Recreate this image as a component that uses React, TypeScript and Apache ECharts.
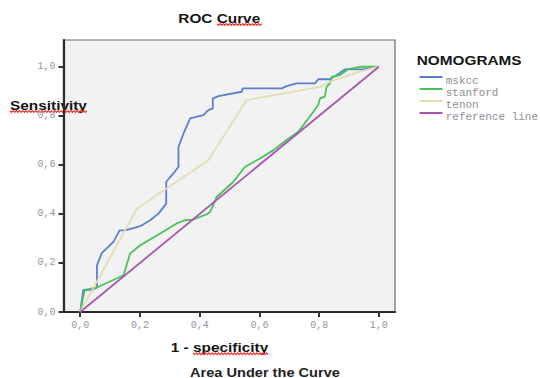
import React, { useEffect, useRef } from 'react';
import * as echarts from 'echarts';

const seriesNames = ['mskcc', 'stanford', 'tenon', 'reference line'];
const seriesColors = ['#5b7fd0', '#45c458', '#e2ddb4', '#a955b3'];

const mskcc: number[][] = [
  [0, 0], [0.01, 0.09], [0.04, 0.09], [0.056, 0.1], [0.056, 0.19], [0.072, 0.24],
  [0.111, 0.286], [0.132, 0.333], [0.151, 0.333], [0.201, 0.35], [0.234, 0.374],
  [0.262, 0.401], [0.288, 0.442], [0.288, 0.531], [0.312, 0.565], [0.329, 0.592],
  [0.329, 0.673], [0.346, 0.728], [0.368, 0.789], [0.412, 0.803], [0.429, 0.823],
  [0.444, 0.83], [0.444, 0.871], [0.463, 0.88], [0.541, 0.898], [0.544, 0.912],
  [0.675, 0.912], [0.691, 0.921], [0.725, 0.932], [0.786, 0.932], [0.797, 0.949],
  [0.836, 0.949], [0.859, 0.966], [0.886, 0.989], [0.95, 0.99], [1, 1],
];

const stanford: number[][] = [
  [0, 0], [0.015, 0.09], [0.056, 0.1], [0.145, 0.15], [0.167, 0.238], [0.201, 0.272],
  [0.268, 0.32], [0.323, 0.361], [0.351, 0.374], [0.379, 0.377], [0.424, 0.399],
  [0.435, 0.408], [0.457, 0.469], [0.513, 0.531], [0.552, 0.592], [0.602, 0.626],
  [0.647, 0.66], [0.691, 0.701], [0.73, 0.735], [0.764, 0.789], [0.797, 0.844],
  [0.803, 0.871], [0.819, 0.878], [0.825, 0.918], [0.836, 0.932], [0.842, 0.959],
  [0.87, 0.966], [0.897, 0.99], [0.942, 1.0], [1, 1],
];

const tenon: number[][] = [
  [0, 0], [0.19, 0.422], [0.429, 0.619], [0.557, 0.864], [0.803, 0.918],
  [0.836, 0.939], [0.936, 0.98], [1, 1],
];

const referenceLine: number[][] = [[0, 0], [1, 1]];

const xTicks = [0, 0.2, 0.4, 0.6, 0.8, 1.0];
const yTicks = [0, 0.2, 0.4, 0.6, 0.8, 1.0];

const titleText = 'ROC Curve';
const yTitle = 'Sensitivity';
const xTitle = '1 - specificity';
const footText = 'Area Under the Curve';
const legendTitle = 'NOMOGRAMS';

function measure(text: string, font: string): number {
  const ctx = document.createElement('canvas').getContext('2d');
  if (!ctx) return text.length * 7;
  ctx.font = font;
  return ctx.measureText(text).width || text.length * 7;
}

function stretchedText(text: string, left: number, cy: number, targetW: number, size: number, family: string, weight: string, fill: string) {
  const font = `${weight} ${size}px ${family}`;
  const w = measure(text, font);
  return {
    type: 'text',
    x: left,
    y: cy,
    scaleX: targetW / w,
    silent: true,
    style: {
      text,
      fontSize: size,
      fontFamily: family,
      fontWeight: weight,
      fill,
      align: 'left',
      verticalAlign: 'middle',
      textAlign: 'left',
      textVerticalAlign: 'middle',
    },
  };
}

function squiggle(x0: number, x1: number, y: number) {
  const pts: number[][] = [];
  let up = true;
  for (let x = x0; x <= x1; x += 1.6) {
    pts.push([x, y + (up ? -0.9 : 0.9)]);
    up = !up;
  }
  return {
    type: 'polyline',
    silent: true,
    shape: { points: pts },
    style: { stroke: '#e8332f', lineWidth: 1.1, fill: null },
  };
}

const fmt = (v: number) => v.toFixed(1).replace('.', ',');

export default function App() {
  const ref = useRef<HTMLDivElement>(null);
  useEffect(() => {
    if (!ref.current) return;
    const chart = echarts.init(ref.current, undefined, { renderer: 'svg' });
    const sans = '"Liberation Sans", Arial, sans-serif';
    const mono = '"Liberation Mono", "Courier New", monospace';
    const dataSets = [mskcc, stanford, tenon, referenceLine];

    const legendEls: any[] = [];
    seriesNames.forEach((n, i) => {
      legendEls.push({
        type: 'line',
        silent: true,
        shape: { x1: 419.5, y1: 77 + 12 * i, x2: 442.5, y2: 77 + 12 * i },
        style: { stroke: seriesColors[i], lineWidth: 2 },
      });
      legendEls.push({
        type: 'text',
        x: 445.7,
        y: 81.5 + 12 * i,
        scaleX: 1.1,
        silent: true,
        style: {
          text: n,
          fontSize: 10,
          fontFamily: mono,
          fill: '#8e8e96',
          align: 'left',
          verticalAlign: 'middle',
          textAlign: 'left',
          textVerticalAlign: 'middle',
        },
      });
    });

    chart.setOption({
      animation: false,
      backgroundColor: '#ffffff',
      grid: {
        show: true,
        left: 63.5,
        top: 40,
        width: 331.5,
        height: 272,
        backgroundColor: '#f2f2f2',
        borderColor: '#6a6a6a',
        borderWidth: 1.2,
        containLabel: false,
      },
      xAxis: {
        type: 'value',
        min: -0.056,
        max: 1.054,
        axisLine: { show: true, onZero: false, lineStyle: { color: '#2a2a2a', width: 2.2 } },
        axisTick: { show: true, length: 5, customValues: xTicks, lineStyle: { color: '#333', width: 2 } },
        axisLabel: {
          customValues: xTicks,
          formatter: fmt,
          fontFamily: mono,
          fontSize: 10,
          color: '#9494a0',
          margin: 8,
        },
        splitLine: { show: false },
      },
      yAxis: {
        type: 'value',
        min: 0,
        max: 1.109,
        axisLine: { show: true, onZero: false, lineStyle: { color: '#2a2a2a', width: 2.2 } },
        axisTick: { show: true, length: 5, customValues: yTicks, lineStyle: { color: '#333', width: 2 } },
        axisLabel: {
          customValues: yTicks,
          formatter: fmt,
          fontFamily: mono,
          fontSize: 10,
          color: '#9494a0',
          margin: 8,
        },
        splitLine: { show: false },
      },
      series: seriesNames.map((n, i) => ({
        name: n,
        type: 'line',
        data: dataSets[i],
        showSymbol: false,
        symbol: 'none',
        lineStyle: { color: seriesColors[i], width: 1.8 },
        itemStyle: { color: seriesColors[i] },
        z: 2 + i,
      })),
      graphic: [
        stretchedText(titleText, 178.3, 18, 82, 13, sans, 'bold', '#151515'),
        squiggle(217, 263, 24.5),
        stretchedText(yTitle, 10, 105.5, 77, 13, sans, 'bold', '#151515'),
        squiggle(10, 88, 111.5),
        stretchedText(xTitle, 170.7, 347.5, 97.6, 13, sans, 'bold', '#151515'),
        squiggle(193, 268.3, 353.8),
        stretchedText(footText, 190, 372.5, 150, 12, sans, 'bold', '#222222'),
        stretchedText(legendTitle, 416.7, 60, 105, 13, sans, 'bold', '#151515'),
        ...legendEls,
      ],
    });
    return () => chart.dispose();
  }, []);
  return (
    <div
      ref={ref}
      style={{ position: 'fixed', left: 0, top: 0, width: 540, height: 378, background: '#fff' }}
    />
  );
}
